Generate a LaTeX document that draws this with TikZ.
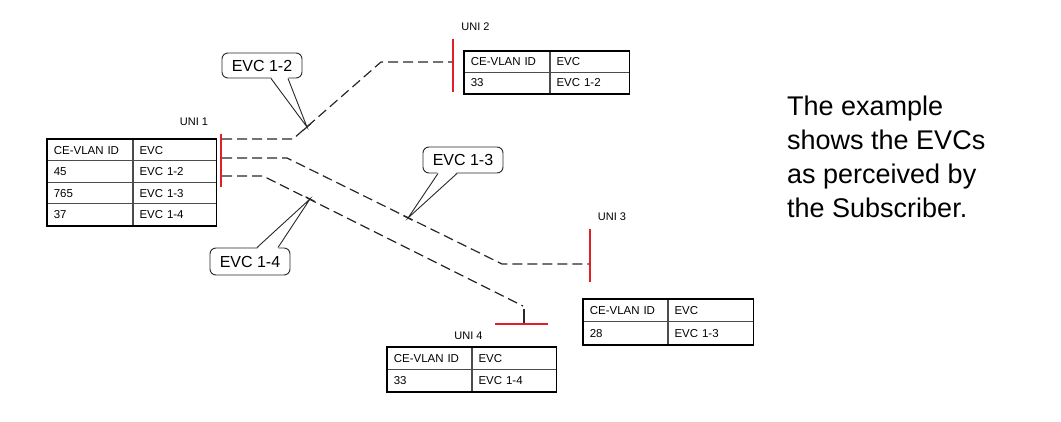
\documentclass[tikz,border=0pt]{standalone}
\usepackage{fontspec}
\setmainfont{Liberation Sans}
\usetikzlibrary{calc}
\definecolor{unired}{RGB}{224,32,40}
\definecolor{lineg}{RGB}{40,40,40}
\newcommand{\evctab}[8]{%
  % #1 name, #2 x, #3 y, #4 text width col1, #5 text width col2, #6 row height, #7 rows, #8 last row index
  \foreach \a/\b [count=\i from 0] in {#7} {
    \node[cell, text width=#4pt, minimum height=#6pt] (#1-\i-1) at (#2,{#3+\i*#6}) {\a};
    \node[cell, text width=#5pt, minimum height=#6pt] (#1-\i-2) at (#1-\i-1.north east) {\b};
  }
  \draw[tframe] (#1-0-1.north west) rectangle (#1-#8-2.south east);
}
\begin{document}
\begin{tikzpicture}[x=1pt,y=-1pt,
  cell/.style={draw=black!70, line width=0.7pt, anchor=north west, inner xsep=6.5pt, inner ysep=0pt, align=left, font=\fontsize{11.5}{13}\selectfont},
  tframe/.style={draw=black, line width=1.7pt},
  unibar/.style={draw=unired, line width=2.6pt},
  evcline/.style={draw=lineg, line width=1.2pt, dash pattern=on 10pt off 5pt},
  solidline/.style={draw=lineg, line width=1.2pt},
  unilabel/.style={font=\fontsize{11}{13}\selectfont, inner sep=0pt},
  callout/.style={draw=lineg, line width=0.9pt, rounded corners=6pt, fill=white, minimum width=80pt, inner sep=0pt, font=\fontsize{16}{18}\selectfont},
  pointer/.style={draw=lineg, line width=0.9pt}
]
\useasboundingbox (0,0) rectangle (1061,422);

% tables
\evctab{t1}{47}{139}{72}{70}{21.5}{CE-VLAN ID/EVC,45/EVC 1-2,765/EVC 1-3,37/EVC 1-4}{3}
\evctab{t2}{464}{51}{72}{66}{21}{CE-VLAN ID/EVC,33/EVC 1-2}{1}
\evctab{t3}{583}{299}{71}{72}{22.5}{CE-VLAN ID/EVC,28/EVC 1-3}{1}
\evctab{t4}{387}{347}{71}{71}{22}{CE-VLAN ID/EVC,33/EVC 1-4}{1}

% UNI labels
\node[unilabel] (l1) at (194,121.5) {UNI 1};
\node[unilabel] (l2) at (475.5,27) {UNI 2};
\node[unilabel] (l3) at (612,216.5) {UNI 3};
\node[unilabel] (l4) at (468.5,336) {UNI 4};

% UNI bars
\coordinate (u1top) at (221,134); \coordinate (u1bot) at (221,187);
\coordinate (u2top) at (453,39);  \coordinate (u2bot) at (453,92);
\coordinate (u3top) at (590,229); \coordinate (u3bot) at (590,282);
\coordinate (u4l) at (495,324);   \coordinate (u4r) at (548,324);
\draw[unibar] (u1top) -- (u1bot);
\draw[unibar] (u2top) -- (u2bot);
\draw[unibar] (u3top) -- (u3bot);
\draw[unibar] (u4l) -- (u4r);

% connector points
\coordinate (a0) at (222,139); \coordinate (a1) at (293,139); \coordinate (a2) at (381,62); \coordinate (a3) at (452,62);
\coordinate (b0) at (222,158); \coordinate (b1) at (287,158); \coordinate (b2) at (502,264); \coordinate (b3) at (589,264);
\coordinate (c0) at (222,176); \coordinate (c1) at (263,176); \coordinate (c2) at (523,306); \coordinate (c3) at (524,309); \coordinate (c4) at (524,323);

\draw[evcline] (a0) -- (a1) -- (a2) -- (a3);
\draw[evcline] (b0) -- (b1) -- (b2) -- (b3);
\draw[evcline] (c0) -- (c1) -- (c2);
\draw[solidline] (c3) -- (c4);

% pointer tips
\coordinate (p12) at (307,127);
\coordinate (p13) at (408,218);
\coordinate (p14) at (310,199);
\draw[solidline] ($(p12)!-5pt!(a2)$) -- ($(p12)!5pt!(a2)$);
\draw[solidline] ($(p13)!-5pt!(b2)$) -- ($(p13)!5pt!(b2)$);
\draw[solidline] ($(p14)!-5pt!(c2)$) -- ($(p14)!5pt!(c2)$);

% callouts
\node[callout, minimum height=25pt] (k12) at (262,65.5) {EVC 1-2};
\node[callout, minimum height=26pt] (k13) at (463,160) {EVC 1-3};
\node[callout, minimum height=27pt] (k14) at (250,261.5) {EVC 1-4};

\fill[white] ($(k12.south)+(9,-1.5)$) -- (p12) -- ($(k12.south)+(26,-1.5)$) -- cycle;
\draw[pointer] ($(k12.south)+(9,0)$) -- (p12) -- ($(k12.south)+(26,0)$);
\fill[white] ($(k13.south)+(-25,-1.5)$) -- (p13) -- ($(k13.south)+(-6,-1.5)$) -- cycle;
\draw[pointer] ($(k13.south)+(-25,0)$) -- (p13) -- ($(k13.south)+(-6,0)$);
\fill[white] ($(k14.north)+(7,1.5)$) -- (p14) -- ($(k14.north)+(28,1.5)$) -- cycle;
\draw[pointer] ($(k14.north)+(7,0)$) -- (p14) -- ($(k14.north)+(28,0)$);

% description
\node[anchor=base west, align=left, inner sep=0pt, font=\fontsize{27}{34}\selectfont] (desc) at (787,218) {The example\\shows the EVCs\\as perceived by\\the Subscriber.};
\end{tikzpicture}
\end{document}
